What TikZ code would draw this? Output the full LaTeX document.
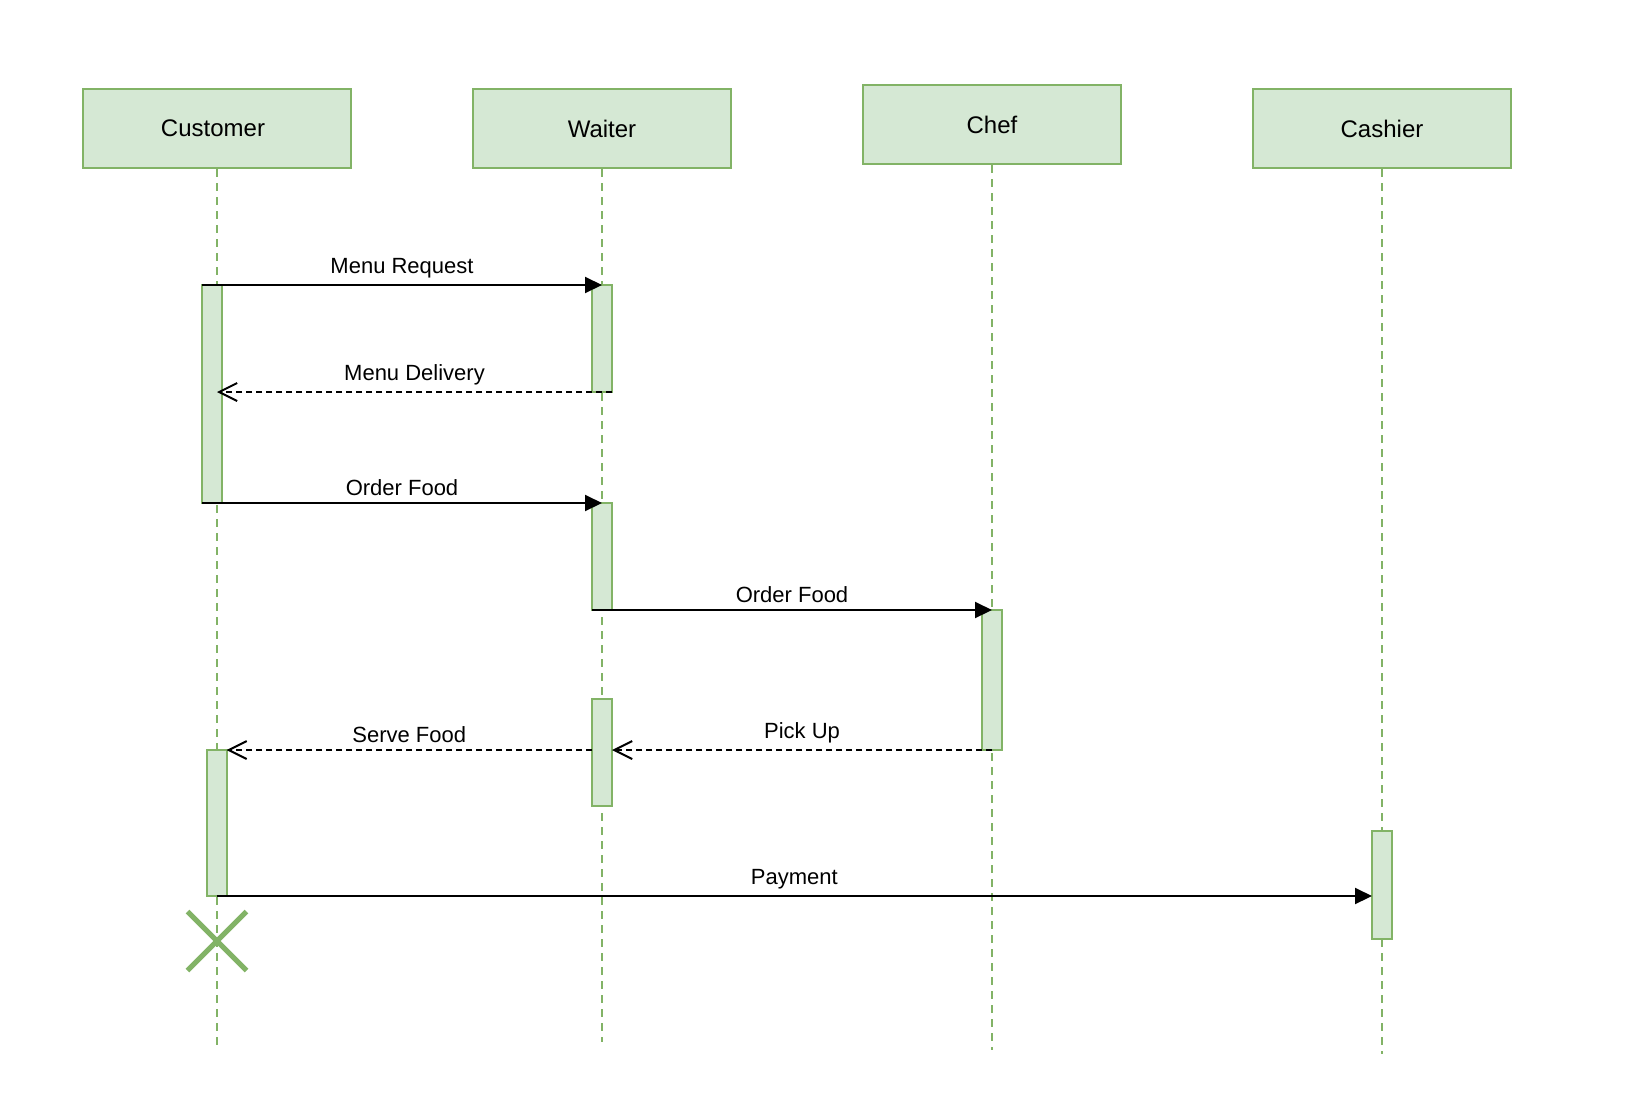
\documentclass[tikz,border=0pt]{standalone}
\usepackage{fontspec}
\setmainfont{Liberation Sans}
\usetikzlibrary{arrows.meta,shapes.misc}
\definecolor{actfill}{HTML}{D5E8D4}
\definecolor{actline}{HTML}{82B366}
\tikzset {
  every node/.style={font=\fontsize{11pt}{13pt}\selectfont},
  actor/.style={draw=actline,fill=actfill,line width=1pt,minimum height=39.5pt,
    minimum width=129pt,inner sep=0pt,font=\fontsize{12pt}{14pt}\selectfont},
  actbar/.style={draw=actline,fill=actfill,line width=1pt,minimum width=10pt,
    inner sep=0pt,outer sep=0pt,anchor=north},
  lifeline/.style={actline,line width=1pt,dash pattern=on 4pt off 3pt},
  call/.style={line width=1pt,-{Triangle[length=8.5pt,width=8pt]}},
  reply/.style={line width=1pt,dash pattern=on 3pt off 2pt,
    -{Straight Barb[length=9pt,width=9pt,line width=1pt]}},
  msglabel/.style={above,inner sep=3pt},
}
\begin{document}
\begin{tikzpicture}[x=0.5pt,y=-0.5pt]
          \useasboundingbox (0,0) rectangle (1626,1092);

          % participants
          \node[actor,minimum width=134pt] (cust) at (217,128.5) {\hspace*{-4pt}Customer};
          \node[actor] (waiter) at (602,128.5) {Waiter};
          \node[actor] (chef) at (992,124.5) {Chef};
          \node[actor] (cashier) at (1382,128.5) {Cashier};

          \coordinate (custend) at (217,1048);
          \coordinate (waiterend) at (602,1042);
          \coordinate (chefend) at (992,1050);
          \coordinate (cashierend) at (1382,1054);
          \draw[lifeline] (cust) -- (custend);
          \draw[lifeline] (waiter) -- (waiterend);
          \draw[lifeline] (chef) -- (chefend);
          \draw[lifeline] (cashier) -- (cashierend);

          % activations
          \node[actbar,minimum height=109pt] (c1) at (212,285) {};
          \node[actbar,minimum height=53.5pt] (w1) at (602,285) {};
          \node[actbar,minimum height=53.5pt] (w2) at (602,503) {};
          \node[actbar,minimum height=70pt] (chefact) at (992,610) {};
          \node[actbar,minimum height=53.5pt] (w3) at (602,699) {};
          \node[actbar,minimum height=73pt] (c2) at (216.5,750) {};
          \node[actbar,minimum height=54pt] (cashact) at (1382,831) {};

          % messages
          \draw[call] (c1.north west) -- node[msglabel]{Menu Request} (w1.north);
          \draw[reply] (w1.south east) -- node[msglabel]{Menu Delivery} (w1.south east -| cust);
          \draw[call] (c1.south west) -- node[msglabel]{Order Food} (w2.north);
          \draw[call] (w2.south west) -- node[msglabel]{Order Food} (chefact.north);
          \draw[reply] (chefact.south) -- node[msglabel]{Pick Up} (chefact.south -| w3.east);
          \draw[reply] (c2.north east -| w3.west) -- node[msglabel]{Serve Food} (c2.north east);
          \draw[call] (c2.south) -- node[msglabel]{Payment} (c2.south -| cashact.west);

          % end of customer
          \node[cross out,draw=actline,line width=2.5pt,minimum size=27pt,inner sep=0pt] (stop) at (217,941) {};
        \end{tikzpicture}
\end{document}
